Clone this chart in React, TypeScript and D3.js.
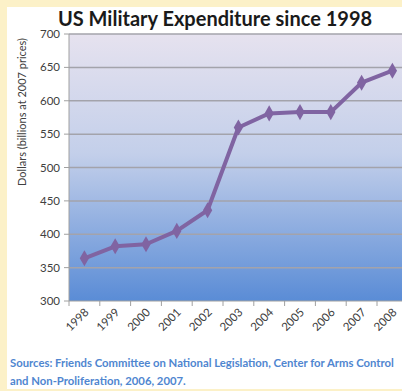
import React from "react";
import * as d3 from "d3";

const years = ["1998", "1999", "2000", "2001", "2002", "2003", "2004", "2005", "2006", "2007", "2008"];
const spending = [364, 382, 385, 405, 436, 560, 581, 583, 583, 627, 645];
const yTicks = [300, 350, 400, 450, 500, 550, 600, 650, 700];

const W = 402;
const H = 391;
const margin = {left: 69, top: 34, bottom: 90};
const plotH = H - margin.top - margin.bottom; // 267
const font = "Lato, 'Open Sans', sans-serif";

export default function App() {
    const x = d3.scaleBand<string>().domain(years).range([margin.left, margin.left + 30.8 * years.length]);
    const y = d3.scaleLinear().domain([300, 700]).range([margin.top + plotH, margin.top]);
    const cx = (d: string) => (x(d) as number) + x.bandwidth() / 2;

    const line = d3.line<number>()
        .x((d, i) => cx(years[i]))
        .y(d => y(d));
    const diamond = d3.symbol().type(d3.symbolDiamond).size(75)();
    const plotRight = x.range()[1];
    const bottom = y(300);

    return (
        <div style={{position: "fixed", left: 0, top: 0}}>
            <svg width={W} height={H} style={{display: "block"}}>
                <defs>
                    <linearGradient id="bg" x1="0" y1="0" x2="0" y2="1">
                        <stop offset="0" stopColor="#e6e2ef"/>
                        <stop offset="0.45" stopColor="#c3cfea"/>
                        <stop offset="1" stopColor="#5a8cd6"/>
                    </linearGradient>
                </defs>
                <rect x={0} y={0} width={W} height={H} fill="#fcf1c8"/>
                <rect x={7} y={7} width={W - 7} height={382} fill="#ffffff"/>
                <text x={215} y={26} textAnchor="middle" fontFamily={font} fontWeight="bold" fontSize={20} fill="#1a1a1a">
                    US Military Expenditure since 1998
                </text>
                <rect x={margin.left} y={margin.top} width={plotRight - margin.left} height={plotH} fill="url(#bg)"/>
                {yTicks.map(t => (
                    <g key={t}>
                        {t > 300 && <line x1={margin.left} x2={plotRight} y1={y(t)} y2={y(t)} stroke="#a3a3ab" strokeWidth={1.5}/>}
                        <line x1={margin.left - 5} x2={margin.left} y1={y(t)} y2={y(t)} stroke="#a0a0a0"/>
                        <text x={margin.left - 9} y={y(t)} dy="0.35em" textAnchor="end" fontFamily={font} fontSize={11.5} fill="#404040">{t}</text>
                    </g>
                ))}
                <line x1={margin.left} x2={margin.left} y1={margin.top} y2={bottom} stroke="#a0a0a0"/>
                <line x1={margin.left} x2={plotRight} y1={bottom} y2={bottom} stroke="#a0a0a0"/>
                {years.map(yr => (
                    <g key={yr}>
                        <line x1={x(yr)} x2={x(yr)} y1={bottom} y2={bottom + 5} stroke="#a0a0a0"/>
                        <text transform={`translate(${cx(yr) + 5},${bottom + 12}) rotate(-45)`} textAnchor="end" fontFamily={font} fontSize={11.5} fill="#404040">{yr}</text>
                    </g>
                ))}
                <text transform={`translate(26,112) rotate(-90)`} textAnchor="middle" fontFamily={font} fontSize={11} fill="#404040">
                    Dollars (billions at 2007 prices)
                </text>
                <path d={line(spending) || ""} fill="none" stroke="#8064a2" strokeWidth={4} strokeLinejoin="round"/>
                {spending.map((v, i) => (
                    <path key={i} d={diamond || ""} transform={`translate(${cx(years[i])},${y(v)})`} fill="#8064a2"/>
                ))}
                <text x={10} y={367} fontFamily={font} fontWeight="bold" fontSize={11.3} fill="#4f86d0">
                    Sources: Friends Committee on National Legislation, Center for Arms Control
                </text>
                <text x={10} y={385} fontFamily={font} fontWeight="bold" fontSize={11.3} fill="#4f86d0">
                    and Non-Proliferation, 2006, 2007.
                </text>
            </svg>
        </div>
    );
}
